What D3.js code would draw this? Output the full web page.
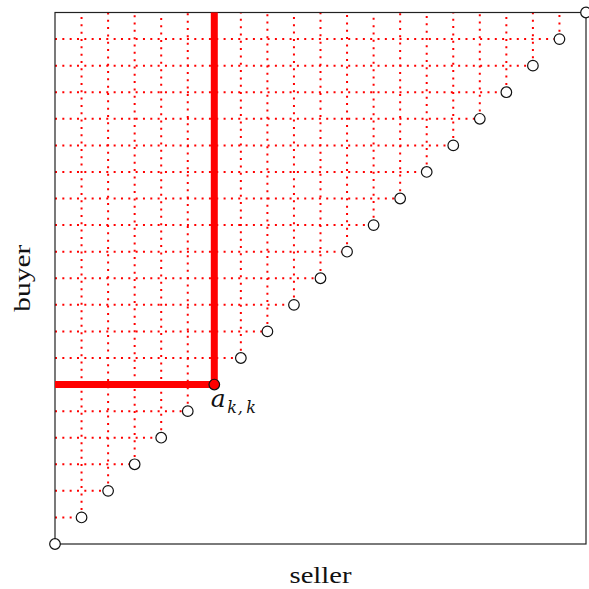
<!DOCTYPE html>
<html><head><meta charset="utf-8">
<script src="https://cdn.jsdelivr.net/npm/d3@7"></script>
<style>body{margin:0;background:#fff}</style>
</head><body>
<svg id="c" width="589" height="589"></svg>
<script>
const steps = d3.range(0, 21);      // diagonal grid points 0..20
const gridIdx = d3.range(1, 20);    // points that get dotted guides
const kIndex = 6;                   // highlighted point a_{k,k}
const xLabel = "seller";
const yLabel = "buyer";

const svg = d3.select("#c");
const L = 55, R = 586, T = 12.5, B = 544;
const x = d3.scaleLinear().domain([0, 20]).range([L, R]);
const y = d3.scaleLinear().domain([0, 20]).range([B, T]);
const serif = "'Liberation Serif', 'Times New Roman', serif";
const mathFont = "'DejaVu Serif', serif";

// dotted guides
const g = svg.append("g").attr("stroke", "#ff0000").attr("stroke-width", 2).attr("stroke-dasharray", "2,5.33").attr("fill", "none");
gridIdx.forEach(i => {
  g.append("line").attr("x1", x(0)).attr("y1", y(i)).attr("x2", x(i)).attr("y2", y(i));
  g.append("line").attr("x1", x(i)).attr("y1", y(i)).attr("x2", x(i)).attr("y2", y(20));
});

// frame
svg.append("rect").attr("x", L).attr("y", T).attr("width", R - L).attr("height", B - T)
  .attr("fill", "none").attr("stroke", "#222").attr("stroke-width", 1.2);

// thick red lines
svg.append("line").attr("x1", x(0)).attr("y1", y(kIndex)).attr("x2", x(kIndex)).attr("y2", y(kIndex))
  .attr("stroke", "#ff0000").attr("stroke-width", 7);
svg.append("line").attr("x1", x(kIndex)).attr("y1", y(kIndex)).attr("x2", x(kIndex)).attr("y2", y(20))
  .attr("stroke", "#ff0000").attr("stroke-width", 7);

// points
svg.append("g").selectAll("circle").data(steps).join("circle")
  .attr("cx", d => x(d)).attr("cy", d => y(d)).attr("r", 5.3)
  .attr("fill", d => d === kIndex ? "#ff0000" : "#fff")
  .attr("stroke", "#111").attr("stroke-width", 1.2);

// label a_{k,k}
const px = x(kIndex), py = y(kIndex);
const lab = svg.append("g").attr("font-family", mathFont).attr("font-style", "italic").attr("fill", "#111");
lab.append("text").attr("x", px - 3.5).attr("y", py + 22.5).attr("font-size", 25).text("a");
lab.append("text").attr("x", px + 13).attr("y", py + 28).attr("font-size", 16).text("k");
lab.append("text").attr("x", px + 23.5).attr("y", py + 28).attr("font-size", 16).text(",");
lab.append("text").attr("x", px + 32).attr("y", py + 28).attr("font-size", 16).text("k");

// axis labels
svg.append("text").attr("x", (L + R) / 2).attr("y", 583).attr("text-anchor", "middle")
  .attr("font-family", serif).attr("font-size", 23.5).attr("fill", "#111")
  .attr("textLength", 62).attr("lengthAdjust", "spacingAndGlyphs").text(xLabel);
svg.append("text").attr("transform", `translate(30,${(T + B) / 2}) rotate(-90)`).attr("text-anchor", "middle")
  .attr("font-family", serif).attr("font-size", 23.5).attr("fill", "#111")
  .attr("textLength", 67).attr("lengthAdjust", "spacingAndGlyphs").text(yLabel);
</script>
</body></html>
